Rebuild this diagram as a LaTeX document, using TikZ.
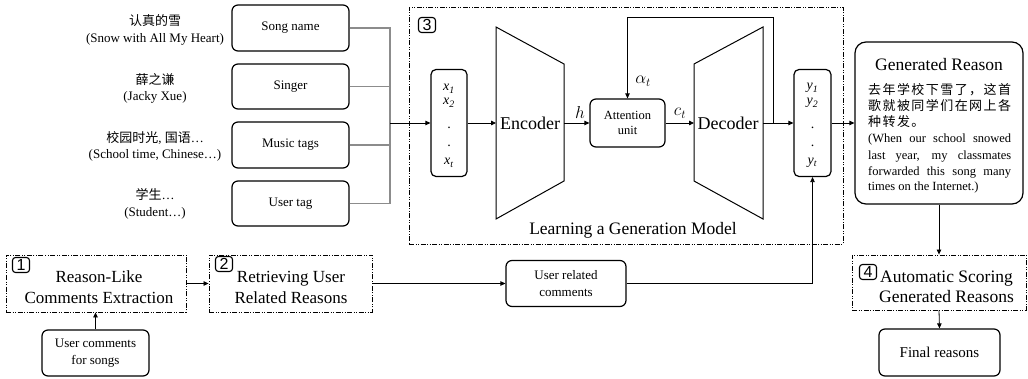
\documentclass[tikz,border=0pt]{standalone}
\usepackage{fontspec}
\setmainfont{Liberation Serif}
\newfontfamily\cjk{Noto Sans CJK SC}
\newfontfamily\cjkspread[LetterSpace=11]{Noto Sans CJK SC}
\newfontfamily\digitfont{Liberation Sans}
\usetikzlibrary{arrows.meta}
\newcommand\fsz[2]{\fontsize{#1}{#2}\selectfont}
\tikzset{
  rbox/.style={draw, line width=1.2pt, rounded corners=6pt, inner sep=0pt, align=center},
  stepbox/.style={draw, line width=0.9pt, dash pattern=on 5pt off 1.5pt on 1pt off 1.5pt on 1pt off 1.5pt, inner sep=0pt},
  numbox/.style={draw, line width=1.1pt, rounded corners=3pt, minimum width=17pt, minimum height=15pt, inner sep=0pt, font=\digitfont\fsz{16}{16}},
  arr/.style={-{Triangle[length=5pt,width=4.5pt]}, line width=0.8pt},
  gline/.style={draw=black!45, line width=1.1pt},
  lbl/.style={align=center, font=\fsz{13}{16.5}, inner sep=0pt},
  sub/.style={anchor=base, inner sep=0pt, font=\fsz{14}{14}},
  big/.style={align=center, inner sep=0pt, font=\fsz{17}{21}},
  trap/.style={draw, line width=1pt},
  mathlbl/.style={inner sep=0pt, font=\fsz{18}{18}},
  grline/.style={anchor=base west, inner sep=0pt, font=\fsz{12.5}{16}}
}
\begin{document}
\begin{tikzpicture}[x=1pt,y=-1pt]
\useasboundingbox (0,0) rectangle (1028,379);

% input attribute boxes
\node[rbox, minimum width=117pt, minimum height=46pt, font=\fsz{13}{15}] (sn) at (290.5,28) {Song name};
\node[rbox, minimum width=117pt, minimum height=45pt, font=\fsz{13}{15}] (sg) at (290.5,86.5) {Singer};
\node[rbox, minimum width=117pt, minimum height=46pt, font=\fsz{13}{15}] (mt) at (290.5,145) {Music tags};
\node[rbox, minimum width=117pt, minimum height=45pt, font=\fsz{13}{15}] (ut) at (290.5,203.5) {User tag};

\node[lbl] (l1) at (155,30) {{\cjk 认真的雪}\\(Snow with All My Heart)};
\node[lbl] (l2) at (155,88.5) {{\cjk 薛之谦}\\(Jacky Xue)};
\node[lbl] (l3) at (155,146.5) {{\cjk 校园时光}, {\cjk 国语}…\\(School time, Chinese…)};
\node[lbl] (l4) at (155,204) {{\cjk 学生}…\\(Student…)};

\coordinate (J) at (390,123);
\foreach \n in {sn,sg,mt,ut} \draw[gline] (\n.east) -| (J);

% generation model
\node[stepbox, minimum width=434pt, minimum height=237pt] (s3) at (626,125.5) {};
\node[numbox] (n3) at (427,25) {3};
\node[font=\fsz{17.5}{17.5}, inner sep=0pt] (lgm) at (633,230) {Learning a Generation Model};

\node[rbox, rounded corners=5pt, minimum width=36pt, minimum height=107pt] (xb) at (449,123) {};
\node[sub] (x1) at (449,91) {\textit{x}\textsubscript{\textit{1}}};
\node[sub] (x2) at (449,105) {\textit{x}\textsubscript{\textit{2}}};
\node[sub] (xd1) at (449,128.5) {.};
\node[sub] (xd2) at (449,146.5) {.};
\node[sub] (xt) at (449,165) {\textit{x}\textsubscript{\textit{t}}};
\draw[arr] (J) -- (xb.west);

\draw[trap] (496,27) -- (564,64) -- (564,181) -- (496,219) -- cycle;
\node[font=\fsz{18}{18}, inner sep=0pt] (enc) at (530,123) {Encoder};
\coordinate (encin) at (496,123);
\coordinate (encout) at (564,123);
\draw[arr] (xb.east) -- (encin);

\node[rbox, minimum width=75pt, minimum height=48pt, font=\fsz{12.5}{15}] (att) at (627.5,123) {Attention\\unit};
\draw[arr] (encout) -- (att.west);
\node[mathlbl] (hl) at (580,113) {$h$};
\node[mathlbl] (cl) at (680,113) {$c_t$};
\node[mathlbl] (al) at (643,81) {$\alpha_t$};

\draw[trap] (694,64) -- (763,27) -- (763,219) -- (694,181) -- cycle;
\node[font=\fsz{18}{18}, inner sep=0pt] (dec) at (728,123) {Decoder};
\coordinate (decin) at (694,123);
\coordinate (decout) at (763,123);
\draw[arr] (att.east) -- (decin);

\node[rbox, rounded corners=5pt, minimum width=37pt, minimum height=107pt] (yb) at (812.5,123) {};
\node[sub] (y1) at (812.5,90) {\textit{y}\textsubscript{\textit{1}}};
\node[sub] (y2) at (812.5,105) {\textit{y}\textsubscript{\textit{2}}};
\node[sub] (yd1) at (812.5,128.5) {.};
\node[sub] (yd2) at (812.5,146.5) {.};
\node[sub] (yt) at (812.5,164.5) {\textit{y}\textsubscript{\textit{t}}};
\draw[arr] (decout) -- (yb.west);

\coordinate (fb) at (773,123);
\coordinate (fbtop) at (773,17);
\draw[arr] (fb) -- (fbtop) -| (att.north);

% generated reason
\node[rbox, rounded corners=11pt, minimum width=168pt, minimum height=162pt] (gr) at (939,123) {};
\draw[arr] (yb.east) -- (gr.west);
\node[font=\fsz{17.5}{17.5}, inner sep=0pt] (grt) at (939,65) {Generated Reason};
\node[grline] (g1) at (868,95) {\cjkspread\fsz{13}{16}去年学校下雪了，这首};
\node[grline] (g2) at (868,111) {\cjkspread\fsz{13}{16}歌就被同学们在网上各};
\node[grline] (g3) at (868,127) {\cjkspread\fsz{13}{16}种转发。};
\node[grline] (g4) at (868,143) {\makebox[143pt][s]{(When our school snowed}};
\node[grline] (g5) at (868,159.5) {\makebox[143pt][s]{last year, my classmates}};
\node[grline] (g6) at (868,175.5) {\makebox[143pt][s]{forwarded this song many}};
\node[grline] (g7) at (868,191) {times on the Internet.)};

% bottom pipeline
\node[stepbox, minimum width=180pt, minimum height=57pt] (s1) at (96,283.5) {};
\node[numbox] (n1) at (21,265) {1};
\node[big] (t1) at (99,287) {Reason-Like\\Comments Extraction};

\node[rbox, minimum width=107pt, minimum height=46pt, font=\fsz{13}{16.5}] (uc) at (95.5,353) {User comments\\for songs};
\draw[arr] (uc.north) -- (uc.north |- s1.south);

\node[stepbox, minimum width=163pt, minimum height=57pt] (s2) at (290.5,283.5) {};
\node[numbox] (n2) at (224,264) {2};
\node[big] (t2) at (291,287) {Retrieving User\\Related Reasons};
\draw[arr] (s1.east) -- (s2.west);

\node[rbox, minimum width=120pt, minimum height=46pt, font=\fsz{13}{16.5}] (urc) at (566,283.5) {User related\\comments};
\draw[arr] (s2.east) -- (urc.west);
\coordinate (uy) at (812.5,283.5);
\draw[arr] (urc.east) -- (uy) -- (yb.south);

\node[stepbox, minimum width=174pt, minimum height=55pt] (s4) at (939,282.5) {};
\node[numbox] (n4) at (868,272) {4};
\node[big, font=\fsz{17.5}{20.5}] (t4) at (946.5,287) {Automatic Scoring\\Generated Reasons};
\draw[arr] (gr.south) -- (s4.north);

\node[rbox, minimum width=121pt, minimum height=47pt, font=\fsz{15}{15}] (fin) at (939.5,352.5) {Final reasons};
\draw[arr] (s4.south) -- (fin.north);
\end{tikzpicture}
\end{document}
